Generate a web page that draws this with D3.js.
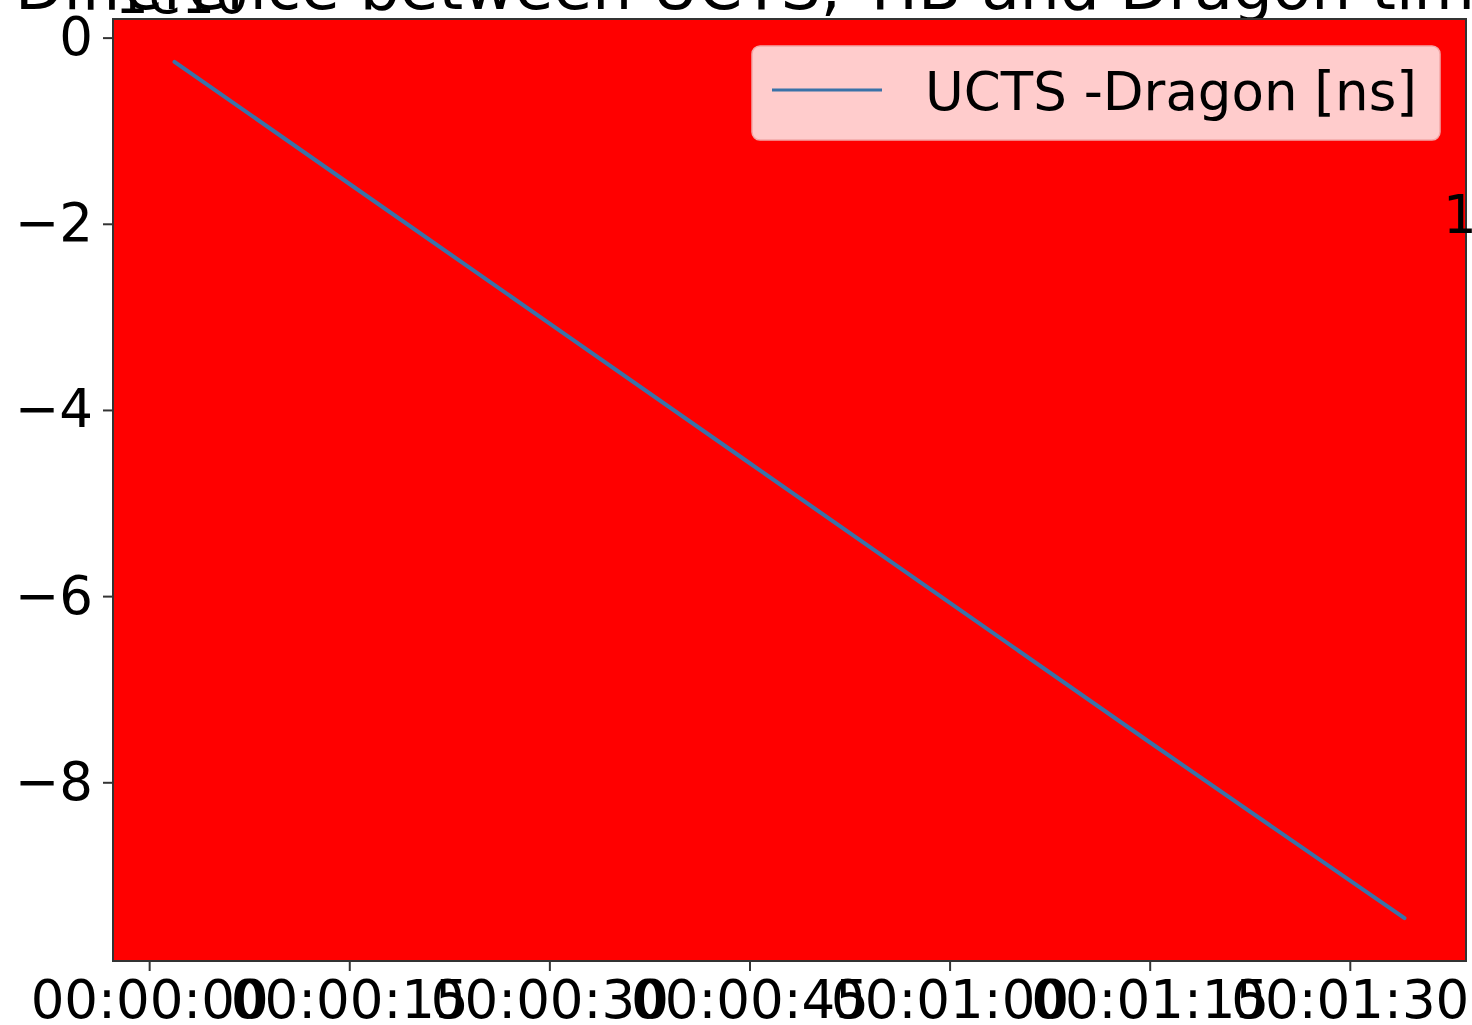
<!DOCTYPE html>
<html>
<head>
<meta charset="utf-8">
<script src="https://cdn.jsdelivr.net/npm/d3@7"></script>
<style>
  html, body { margin: 0; padding: 0; background: #fff; overflow: hidden; }
  text { font-family: "DejaVu Sans", sans-serif; }
</style>
</head>
<body>
<svg id="chart" width="1472" height="1025" viewBox="0 0 1472 1025"></svg>
<script>
// time since start [s] and UCTS - Dragon difference [x1e10 ns]
const seconds = [1.9, 15, 30, 45, 60, 75, 94.1];
const diffs = [-0.26, -1.57, -3.07, -4.57, -6.07, -7.57, -9.46];
const xTicks = [0, 15, 30, 45, 60, 75, 90];
const yTicks = [0, -2, -4, -6, -8];
const seriesLabel = "UCTS -Dragon [ns]";
const titleText = "Difference between UCTS, TIB and Dragon times";

const svg = d3.select("#chart");
const plot = { left: 113, top: 19, right: 1466, bottom: 961 };
const fs = "53px";

// matplotlib-like 5% margins
function padded(ext) {
  const p = (ext[1] - ext[0]) * 0.05;
  return [ext[0] - p, ext[1] + p];
}
const x = d3.scaleLinear().domain(padded(d3.extent(seconds))).range([plot.left, plot.right]);
const y = d3.scaleLinear().domain(padded(d3.extent(diffs))).range([plot.bottom, plot.top]);

const fmtTime = s => {
  const m = Math.floor(s / 60), sec = s % 60;
  return "00:" + String(m).padStart(2, "0") + ":" + String(sec).padStart(2, "0");
};

// title (clipped by the top of the picture)
svg.append("text")
  .attr("x", 15).attr("y", 9)
  .style("font-size", "63px")
  .text(titleText);

// axes background
svg.append("rect")
  .attr("x", plot.left).attr("y", plot.top)
  .attr("width", plot.right - plot.left).attr("height", plot.bottom - plot.top)
  .attr("fill", "#ff0000");

// offset text
svg.append("text")
  .attr("x", plot.left + 2).attr("y", 13)
  .style("font-size", fs)
  .text("1e10");

// the line
const line = d3.line().x((d, i) => x(seconds[i])).y(d => y(d));
svg.append("path")
  .datum(diffs)
  .attr("d", line)
  .attr("fill", "none")
  .attr("stroke", "#3a72a8")
  .attr("stroke-width", 4)
  .attr("stroke-linecap", "round");

// axes
const xAxis = d3.axisBottom(x).tickValues(xTicks).tickFormat(fmtTime).tickSize(10).tickPadding(9);
const gx = svg.append("g").attr("transform", `translate(0,${plot.bottom})`).call(xAxis);
gx.select(".domain").remove();
gx.selectAll("text").style("font-size", fs).attr("fill", "#000").attr("dy", "0.71em");
gx.selectAll("line").attr("stroke", "#333").attr("stroke-width", 2);

const yAxis = d3.axisLeft(y).tickValues(yTicks).tickFormat(d => d3.format("d")(d).replace("-", "\u2212")).tickSize(10).tickPadding(10);
const gy = svg.append("g").attr("transform", `translate(${plot.left},0)`).call(yAxis);
gy.select(".domain").remove();
gy.selectAll("text").style("font-size", fs).attr("fill", "#000");
gy.selectAll("line").attr("stroke", "#333").attr("stroke-width", 2);

// spines
svg.append("rect")
  .attr("x", plot.left).attr("y", plot.top)
  .attr("width", plot.right - plot.left).attr("height", plot.bottom - plot.top)
  .attr("fill", "none").attr("stroke", "#333").attr("stroke-width", 2);

// legend
const lg = svg.append("g").attr("transform", "translate(752,46)");
lg.append("rect")
  .attr("width", 688).attr("height", 94).attr("rx", 8)
  .attr("fill", "#ffcccc").attr("stroke", "#f2a8a8").attr("stroke-width", 1.5);
lg.append("line")
  .attr("x1", 20).attr("x2", 130).attr("y1", 44).attr("y2", 44)
  .attr("stroke", "#3a72a8").attr("stroke-width", 3);
lg.append("text")
  .attr("x", 173).attr("y", 64)
  .style("font-size", fs)
  .text(seriesLabel);

// clipped neighbour text at the right edge
svg.append("text")
  .attr("x", 1443).attr("y", 233)
  .style("font-size", fs)
  .text("1");
</script>
</body>
</html>
